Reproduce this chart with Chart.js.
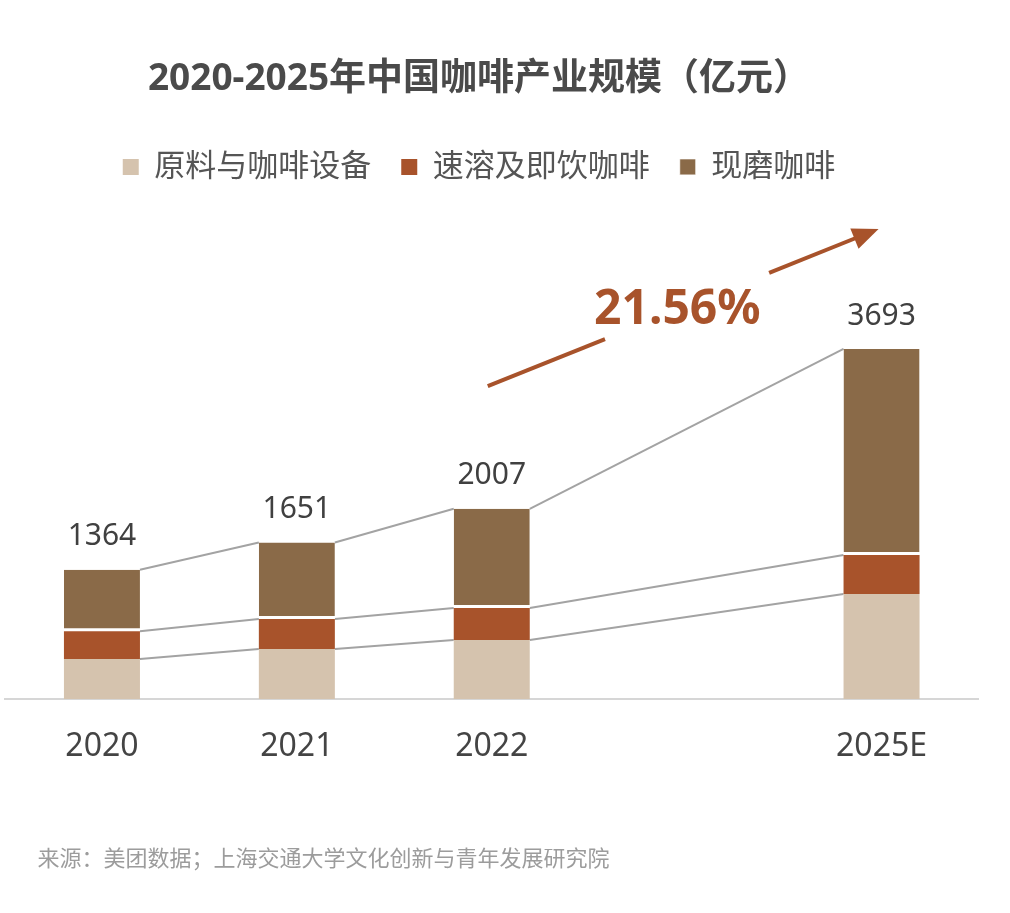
<!DOCTYPE html>
<html>
<head>
<meta charset="utf-8">
<script src="https://cdn.jsdelivr.net/npm/chart.js@4.4.1/dist/chart.umd.min.js"></script>
<style>
  html, body { margin: 0; padding: 0; background: #fff; overflow: hidden; }
  #wrap { position: absolute; left: -21px; top: 0; width: 1000px; height: 913px; }
</style>
</head>
<body>
<div id="wrap"><canvas id="chart" width="1000" height="913"></canvas></div>
<script>
const categories = ['2020', '2021', '2022', '', '2025E'];
const rawMaterials = [422, 527, 622, null, 1108];
const instantRtd = [293, 316, 338, null, 411];
const freshGround = [649, 808, 1047, null, 2174];
const seriesNames = ['原料与咖啡设备', '速溶及即饮咖啡', '现磨咖啡'];
const chartTitle = '2020-2025年中国咖啡产业规模（亿元）';
const cagrLabel = '21.56%';
const sourceNote = '来源：美团数据；上海交通大学文化创新与青年发展研究院';

const colors = ['#d5c3ae', '#a8532b', '#8a6a48'];
const accent = '#a8532b';

Chart.defaults.font.family = "'Noto Sans', 'Noto Sans CJK SC', sans-serif";
Chart.defaults.color = '#555';

// grey lines joining the segment tops of neighbouring bars
const connectors = {
  id: 'connectors',
  beforeDatasetsDraw(chart) {
    const ctx = chart.ctx;
    ctx.save();
    ctx.strokeStyle = '#a3a3a3';
    ctx.lineWidth = 2;
    chart.data.datasets.forEach((ds, d) => {
      const bars = chart.getDatasetMeta(d).data;
      let prev = null;
      ds.data.forEach((v, i) => {
        if (v == null) return;
        const el = bars[i];
        if (prev) {
          ctx.beginPath();
          ctx.moveTo(prev.x + prev.width / 2, prev.y);
          ctx.lineTo(el.x - el.width / 2, el.y);
          ctx.stroke();
        }
        prev = el;
      });
    });
    ctx.restore();
  }
};

// totals, growth arrow and source line
const extras = {
  id: 'extras',
  afterDatasetsDraw(chart) {
    const ctx = chart.ctx;
    const x = chart.scales.x, y = chart.scales.y;
    const top = chart.getDatasetMeta(2).data;
    ctx.save();
    ctx.font = "30px 'Noto Sans', sans-serif";
    ctx.fillStyle = '#404040';
    ctx.textAlign = 'center';
    ctx.textBaseline = 'middle';
    categories.forEach((c, i) => {
      if (freshGround[i] == null) return;
      const total = rawMaterials[i] + instantRtd[i] + freshGround[i];
      ctx.fillText(String(total), top[i].x, top[i].y - 33);
    });

    // arrow
    const xs = x.getPixelForValue(2) - 4, ys = y.getPixelForValue(3300);
    const xe = x.getPixelForValue(4) - 3, ye = y.getPixelForValue(4960);
    const pt = t => [xs + (xe - xs) * t, ys + (ye - ys) * t];
    ctx.strokeStyle = accent;
    ctx.fillStyle = accent;
    ctx.lineWidth = 4;
    let a = pt(0), b = pt(0.3);
    ctx.beginPath(); ctx.moveTo(a[0], a[1]); ctx.lineTo(b[0], b[1]); ctx.stroke();
    a = pt(0.72); b = pt(0.95);
    ctx.beginPath(); ctx.moveTo(a[0], a[1]); ctx.lineTo(b[0], b[1]); ctx.stroke();
    const ang = Math.atan2(ye - ys, xe - xs);
    ctx.beginPath();
    ctx.moveTo(xe, ye);
    ctx.lineTo(xe - 26 * Math.cos(ang) + 11 * Math.sin(ang), ye - 26 * Math.sin(ang) - 11 * Math.cos(ang));
    ctx.lineTo(xe - 26 * Math.cos(ang) - 11 * Math.sin(ang), ye - 26 * Math.sin(ang) + 11 * Math.cos(ang));
    ctx.closePath();
    ctx.fill();
    const m = pt(0.485);
    ctx.font = "bold 48px 'Noto Sans', sans-serif";
    ctx.fillText(cagrLabel, m[0], m[1]);

    ctx.font = "22px 'Noto Sans CJK SC', sans-serif";
    ctx.fillStyle = '#9c9c9c';
    ctx.textAlign = 'left';
    ctx.fillText(sourceNote, chart.chartArea.left + 33, 858);
    ctx.restore();
  }
};

new Chart(document.getElementById('chart'), {
  type: 'bar',
  data: {
    labels: categories,
    datasets: [
      { label: seriesNames[0], data: rawMaterials, backgroundColor: colors[0] },
      { label: seriesNames[1], data: instantRtd, backgroundColor: colors[1] },
      {
        label: seriesNames[2], data: freshGround, backgroundColor: colors[2],
        borderColor: '#ffffff', borderSkipped: false,
        borderWidth: { top: 0, left: 0, right: 0, bottom: 3 }
      }
    ]
  },
  options: {
    responsive: false,
    animation: false,
    layout: { padding: { top: 0, bottom: 125.6 } },
    datasets: { bar: { categoryPercentage: 1, barPercentage: 0.39 } },
    plugins: {
      title: {
        display: true,
        text: chartTitle,
        color: '#4a4a4a',
        font: { size: 37, weight: 'bold' },
        padding: { top: 57, bottom: 20 }
      },
      legend: {
        display: true,
        labels: {
          boxWidth: 16,
          boxHeight: 16,
          padding: 30,
          color: '#555',
          font: { size: 31 }
        }
      },
      tooltip: { enabled: false }
    },
    scales: {
      x: {
        stacked: true,
        grid: { display: false },
        border: { color: '#d6d6d6', width: 2 },
        ticks: { color: '#444', padding: 21, font: { size: 32 } }
      },
      y: {
        stacked: true,
        min: 0,
        max: 5345,
        grid: { display: false },
        border: { display: false },
        ticks: { display: false },
        afterFit(scale) { scale.width = 25.5; }
      }
    }
  },
  plugins: [connectors, extras]
});
</script>
</body>
</html>
